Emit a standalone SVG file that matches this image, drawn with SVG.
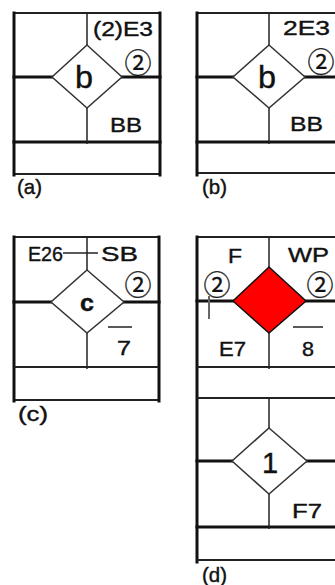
<svg xmlns="http://www.w3.org/2000/svg" width="335" height="585" viewBox="0 0 335 585">
<defs>
<style>
.thick{stroke:#111;stroke-width:3;fill:none;stroke-linecap:square}
.med{stroke:#222;stroke-width:2;fill:none}
.thin{stroke:#222;stroke-width:1.5;fill:none}
.dia{fill:#fff;stroke:#333;stroke-width:1.5}
.red{fill:#ff0000;stroke:#111;stroke-width:1.5}
.t{font-family:"Liberation Sans",Arial,sans-serif;font-size:21px;fill:#111;stroke:#111;stroke-width:0.4}
.big{font-size:31px}
.one{font-size:29px}
.cb{font-size:23px;font-weight:bold}
.lab{font-size:21px}
.circ{font-family:"Noto Sans CJK JP","DejaVu Sans",sans-serif;font-size:27px;fill:#111;stroke:#111;stroke-width:0.3;text-anchor:middle}
.tick{stroke:#666;stroke-width:2}
</style>
</defs>
<rect width="335" height="585" fill="#fff"/>

<g id="panel-a">
  <line class="med" x1="14" y1="13" x2="160" y2="13"/>
  <line class="med" x1="14" y1="174" x2="160" y2="174"/>
  <line class="thick" x1="14" y1="13" x2="14" y2="175"/>
  <line class="thick" x1="160" y1="13" x2="160" y2="175"/>
  <line class="thick" x1="14" y1="77" x2="52" y2="77"/>
  <line class="thick" x1="122" y1="77" x2="160" y2="77"/>
  <line class="thick" x1="14" y1="142" x2="160" y2="142"/>
  <line class="thin" x1="87" y1="13" x2="87" y2="45"/>
  <line class="thin" x1="87" y1="108" x2="87" y2="144"/>
  <g id="node-a"><polygon class="dia" points="87,45 122,77 87,108 52,77"/>
  <text class="t big" x="75" y="88" textLength="18" lengthAdjust="spacingAndGlyphs">b</text></g>
  <text class="t" x="93" y="36" textLength="60" lengthAdjust="spacingAndGlyphs">(2)E3</text>
  <text class="circ" x="138" y="73">②</text>
  <text class="t" x="110" y="132" textLength="32" lengthAdjust="spacingAndGlyphs">BB</text>
  <text class="t lab" x="17" y="194" textLength="25" lengthAdjust="spacingAndGlyphs">(a)</text>
</g>

<g id="panel-b">
  <line class="med" x1="197" y1="13" x2="335" y2="13"/>
  <line class="med" x1="197" y1="173" x2="335" y2="173"/>
  <line class="thick" x1="197" y1="13" x2="197" y2="175"/>
  <line class="thick" x1="197" y1="77" x2="233" y2="77"/>
  <line class="thick" x1="305" y1="77" x2="335" y2="77"/>
  <line class="thick" x1="197" y1="142" x2="335" y2="142"/>
  <line class="thin" x1="269" y1="13" x2="269" y2="45"/>
  <line class="thin" x1="269" y1="108" x2="269" y2="144"/>
  <g id="node-b"><polygon class="dia" points="269,45 305,77 269,108 233,77"/>
  <text class="t big" x="258" y="88" textLength="18" lengthAdjust="spacingAndGlyphs">b</text></g>
  <text class="t" x="283" y="35" textLength="47" lengthAdjust="spacingAndGlyphs">2E3</text>
  <text class="circ" x="321" y="72">②</text>
  <text class="t" x="290" y="131" textLength="33" lengthAdjust="spacingAndGlyphs">BB</text>
  <text class="t lab" x="202" y="194" textLength="25" lengthAdjust="spacingAndGlyphs">(b)</text>
</g>

<g id="panel-c">
  <line class="med" x1="14" y1="237" x2="159" y2="237"/>
  <line class="med" x1="14" y1="400" x2="159" y2="400"/>
  <line class="thick" x1="14" y1="237" x2="14" y2="401"/>
  <line class="thick" x1="159" y1="237" x2="159" y2="401"/>
  <line class="thick" x1="14" y1="302" x2="51" y2="302"/>
  <line class="thick" x1="124" y1="302" x2="159" y2="302"/>
  <line class="med" x1="14" y1="367" x2="159" y2="367"/>
  <line class="thin" x1="87" y1="237" x2="87" y2="270"/>
  <line class="thin" x1="87" y1="333" x2="87" y2="369"/>
  <line class="thin" x1="63" y1="253" x2="98" y2="253"/>
  <g id="node-c"><polygon class="dia" points="87,270 124,302 87,333 51,302"/>
  <text class="t cb" x="80" y="311" textLength="14" lengthAdjust="spacingAndGlyphs">c</text></g>
  <text class="t" x="28" y="261" textLength="35" lengthAdjust="spacingAndGlyphs">E26</text>
  <text class="t" x="101" y="261" textLength="37" lengthAdjust="spacingAndGlyphs">SB</text>
  <text class="circ" x="138" y="295">②</text>
  <line class="thin" x1="108" y1="327" x2="132" y2="327"/>
  <text class="t" x="117" y="355" textLength="14" lengthAdjust="spacingAndGlyphs">7</text>
  <text class="t lab" x="18" y="421" textLength="30" lengthAdjust="spacingAndGlyphs">(c)</text>
</g>

<g id="panel-d">
  <line class="med" x1="197" y1="237" x2="335" y2="237"/>
  <line class="thick" x1="197" y1="237" x2="197" y2="562"/>
  <line class="thick" x1="197" y1="301" x2="233" y2="301"/>
  <line class="thick" x1="306" y1="301" x2="335" y2="301"/>
  <line class="med" x1="197" y1="367" x2="335" y2="367"/>
  <line class="med" x1="197" y1="398" x2="335" y2="398"/>
  <line class="thick" x1="197" y1="461" x2="232" y2="461"/>
  <line class="thick" x1="307" y1="461" x2="335" y2="461"/>
  <line class="thick" x1="197" y1="527" x2="335" y2="527"/>
  <line class="med" x1="197" y1="560" x2="335" y2="560"/>
  <line class="thin" x1="269" y1="237" x2="269" y2="267"/>
  <line class="thin" x1="269" y1="333" x2="269" y2="369"/>
  <line class="thin" x1="269" y1="398" x2="269" y2="428"/>
  <line class="thin" x1="269" y1="494" x2="269" y2="529"/>
  <g id="node-d1"><polygon class="red" points="269,267 306,301 269,333 233,301"/></g>
  <g id="node-d2"><polygon class="dia" points="269,428 307,461 269,494 232,461"/>
  <text class="t one" x="270" y="473" text-anchor="middle">1</text></g>
  <text class="t" x="228" y="263" textLength="14" lengthAdjust="spacingAndGlyphs">F</text>
  <text class="t" x="288" y="262" textLength="41" lengthAdjust="spacingAndGlyphs">WP</text>
  <text class="circ" x="217" y="295">②</text>
  <text class="circ" x="320" y="295">②</text>
  <line class="tick" x1="209" y1="296" x2="209" y2="319"/>
  <text class="t" x="219" y="356" textLength="27" lengthAdjust="spacingAndGlyphs">E7</text>
  <line class="thin" x1="293" y1="327" x2="323" y2="327"/>
  <text class="t" x="302" y="356" textLength="12" lengthAdjust="spacingAndGlyphs">8</text>
  <text class="t" x="292" y="518" textLength="30" lengthAdjust="spacingAndGlyphs">F7</text>
  <text class="t lab" x="202" y="582" textLength="25" lengthAdjust="spacingAndGlyphs">(d)</text>
</g>
</svg>
